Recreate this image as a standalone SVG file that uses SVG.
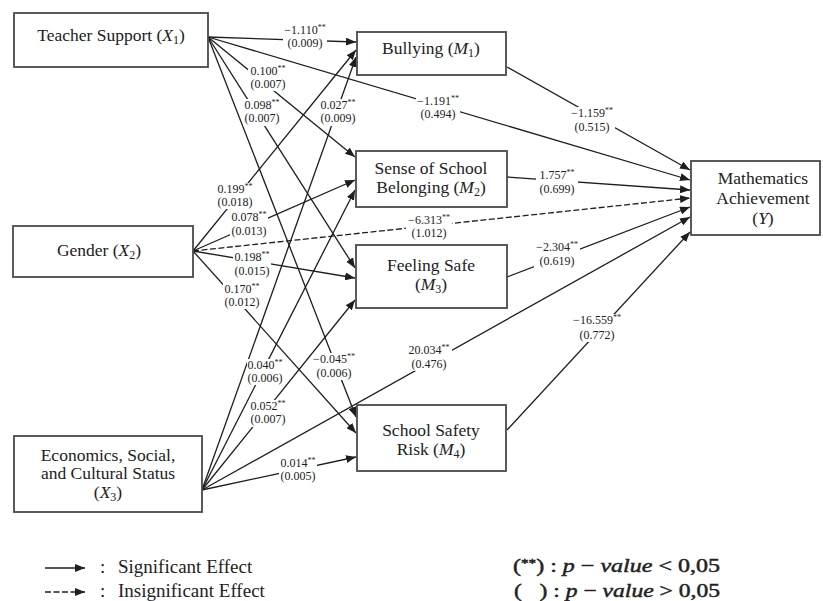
<svg xmlns="http://www.w3.org/2000/svg" width="823" height="601" viewBox="0 0 823 601">
<style>
.box{fill:#fff;stroke:#4a4a4a;stroke-width:1.8}
.nt{font-family:"Liberation Serif","Times New Roman",serif;font-size:17.5px;fill:#222;text-anchor:middle}
.it{font-style:italic}
.sub{font-size:12px}
.cn{fill:none;stroke:#1e1e1e;stroke-width:1.3;marker-end:url(#ah)}
.dash{stroke-dasharray:6 2.5}
.lb{font-family:"Liberation Serif","Times New Roman",serif;font-size:12px;fill:#222;text-anchor:middle}
.st{font-size:8px}
.bg{fill:#fff}
.lg{font-family:"Liberation Serif","Times New Roman",serif;font-size:19px;fill:#222}
.lm{font-family:"Liberation Serif","Times New Roman",serif;font-size:19px;fill:#222;stroke:#222;stroke-width:0.45}
</style>
<defs>
<marker id="ah" markerUnits="userSpaceOnUse" markerWidth="10" markerHeight="8" refX="10" refY="4" orient="auto">
<path d="M0,0 L10,4 L0,8 z" fill="#1e1e1e"/>
</marker>
</defs>
<rect width="823" height="601" fill="#fff"/>

<g id="connectors">
<line class="cn" x1="208" y1="37" x2="356" y2="42"/>
<line class="cn" x1="193" y1="251" x2="356" y2="50"/>
<line class="cn" x1="202" y1="490" x2="356" y2="57"/>
<line class="cn" x1="208" y1="37" x2="355" y2="157"/>
<line class="cn" x1="193" y1="251" x2="355" y2="180"/>
<line class="cn" x1="202" y1="490" x2="355" y2="190"/>
<line class="cn" x1="208" y1="37" x2="355" y2="268"/>
<line class="cn" x1="193" y1="251" x2="355" y2="278"/>
<line class="cn" x1="202" y1="490" x2="355" y2="300"/>
<line class="cn" x1="208" y1="37" x2="356" y2="417"/>
<line class="cn" x1="193" y1="251" x2="356" y2="433"/>
<line class="cn" x1="202" y1="490" x2="356" y2="457"/>
<line class="cn" x1="507" y1="67" x2="690" y2="170"/>
<line class="cn" x1="208" y1="37" x2="690" y2="180"/>
<line class="cn" x1="507" y1="177" x2="690" y2="190"/>
<line class="cn dash" x1="193" y1="251" x2="690" y2="198"/>
<line class="cn" x1="507" y1="277" x2="690" y2="207"/>
<line class="cn" x1="202" y1="490" x2="690" y2="217"/>
<line class="cn" x1="507" y1="430" x2="690" y2="232"/>
</g>

<g id="labels">
<rect class="bg" x="283" y="23" width="44" height="27"/>
<text class="lb" x="305" y="34">−1.110<tspan class="st" dy="-4">**</tspan></text><text class="lb" x="305" y="47">(0.009)</text>
<rect class="bg" x="248" y="65" width="40" height="26"/>
<text class="lb" x="268" y="75">0.100<tspan class="st" dy="-4">**</tspan></text><text class="lb" x="268" y="88">(0.007)</text>
<rect class="bg" x="243" y="99" width="38" height="27"/>
<text class="lb" x="262" y="109">0.098<tspan class="st" dy="-4">**</tspan></text><text class="lb" x="262" y="122">(0.007)</text>
<rect class="bg" x="319" y="99" width="38" height="27"/>
<text class="lb" x="338" y="109">0.027<tspan class="st" dy="-4">**</tspan></text><text class="lb" x="338" y="122">(0.009)</text>
<rect class="bg" x="416" y="95" width="44" height="26"/>
<text class="lb" x="438" y="105">−1.191<tspan class="st" dy="-4">**</tspan></text><text class="lb" x="438" y="118">(0.494)</text>
<rect class="bg" x="216" y="183" width="38" height="26"/>
<text class="lb" x="235" y="193">0.199<tspan class="st" dy="-4">**</tspan></text><text class="lb" x="235" y="206">(0.018)</text>
<rect class="bg" x="230" y="211" width="38" height="27"/>
<text class="lb" x="249" y="221">0.078<tspan class="st" dy="-4">**</tspan></text><text class="lb" x="249" y="235">(0.013)</text>
<rect class="bg" x="406" y="214" width="46" height="26"/>
<text class="lb" x="429" y="224">−6.313<tspan class="st" dy="-4">**</tspan></text><text class="lb" x="429" y="237">(1.012)</text>
<rect class="bg" x="233" y="251" width="38" height="27"/>
<text class="lb" x="252" y="261">0.198<tspan class="st" dy="-4">**</tspan></text><text class="lb" x="252" y="275">(0.015)</text>
<rect class="bg" x="223" y="283" width="38" height="26"/>
<text class="lb" x="242" y="293">0.170<tspan class="st" dy="-4">**</tspan></text><text class="lb" x="242" y="306">(0.012)</text>
<rect class="bg" x="247" y="359" width="37" height="26"/>
<text class="lb" x="265" y="369">0.040<tspan class="st" dy="-4">**</tspan></text><text class="lb" x="265" y="382">(0.006)</text>
<rect class="bg" x="250" y="400" width="37" height="27"/>
<text class="lb" x="268" y="410">0.052<tspan class="st" dy="-4">**</tspan></text><text class="lb" x="268" y="423">(0.007)</text>
<rect class="bg" x="313" y="353" width="43" height="27"/>
<text class="lb" x="334" y="363">−0.045<tspan class="st" dy="-4">**</tspan></text><text class="lb" x="334" y="377">(0.006)</text>
<rect class="bg" x="406" y="344" width="46" height="27"/>
<text class="lb" x="429" y="354">20.034<tspan class="st" dy="-4">**</tspan></text><text class="lb" x="429" y="368">(0.476)</text>
<rect class="bg" x="279" y="457" width="38" height="26"/>
<text class="lb" x="298" y="467">0.014<tspan class="st" dy="-4">**</tspan></text><text class="lb" x="298" y="480">(0.005)</text>
<rect class="bg" x="569" y="107" width="46" height="27"/>
<text class="lb" x="592" y="117">−1.159<tspan class="st" dy="-4">**</tspan></text><text class="lb" x="592" y="131">(0.515)</text>
<rect class="bg" x="536" y="169" width="42" height="27"/>
<text class="lb" x="557" y="179">1.757<tspan class="st" dy="-4">**</tspan></text><text class="lb" x="557" y="193">(0.699)</text>
<rect class="bg" x="534" y="241" width="46" height="27"/>
<text class="lb" x="557" y="251">−2.304<tspan class="st" dy="-4">**</tspan></text><text class="lb" x="557" y="265">(0.619)</text>
<rect class="bg" x="571" y="314" width="52" height="28"/>
<text class="lb" x="597" y="324">−16.559<tspan class="st" dy="-4">**</tspan></text><text class="lb" x="597" y="339">(0.772)</text>
</g>

<g id="teacher-support">
<rect class="box" x="14" y="13" width="194" height="54"/>
<text class="nt" x="111" y="41">Teacher Support (<tspan class="it">X</tspan><tspan class="sub" dy="3">1</tspan><tspan dy="-3">)</tspan></text>
</g>
<g id="gender">
<rect class="box" x="13" y="226" width="180" height="51"/>
<text class="nt" x="99" y="256">Gender (<tspan class="it">X</tspan><tspan class="sub" dy="3">2</tspan><tspan dy="-3">)</tspan></text>
</g>
<g id="escs">
<rect class="box" x="14" y="436" width="188" height="76"/>
<text class="nt" x="108" y="461">Economics, Social,</text>
<text class="nt" x="108" y="479">and Cultural Status</text>
<text class="nt" x="108" y="498">(<tspan class="it">X</tspan><tspan class="sub" dy="3">3</tspan><tspan dy="-3">)</tspan></text>
</g>
<g id="bullying">
<rect class="box" x="357" y="32" width="149" height="43"/>
<text class="nt" x="431" y="54">Bullying (<tspan class="it">M</tspan><tspan class="sub" dy="3">1</tspan><tspan dy="-3">)</tspan></text>
</g>
<g id="belonging">
<rect class="box" x="356" y="151" width="151" height="56"/>
<text class="nt" x="431" y="174">Sense of School</text>
<text class="nt" x="431" y="193">Belonging (<tspan class="it">M</tspan><tspan class="sub" dy="3">2</tspan><tspan dy="-3">)</tspan></text>
</g>
<g id="feeling-safe">
<rect class="box" x="356" y="245" width="151" height="63"/>
<text class="nt" x="431" y="271">Feeling Safe</text>
<text class="nt" x="431" y="290">(<tspan class="it">M</tspan><tspan class="sub" dy="3">3</tspan><tspan dy="-3">)</tspan></text>
</g>
<g id="school-safety-risk">
<rect class="box" x="357" y="405" width="149" height="66"/>
<text class="nt" x="431" y="436">School Safety</text>
<text class="nt" x="431" y="455">Risk (<tspan class="it">M</tspan><tspan class="sub" dy="3">4</tspan><tspan dy="-3">)</tspan></text>
</g>
<g id="math-achievement">
<rect class="box" x="691" y="161" width="129" height="74"/>
<text class="nt" x="763" y="184">Mathematics</text>
<text class="nt" x="763" y="204">Achievement</text>
<text class="nt" x="763" y="224">(<tspan class="it">Y</tspan>)</text>
</g>

<g id="legend">
<line x1="45" y1="568" x2="85" y2="568" class="cn"/>
<line x1="45" y1="592" x2="85" y2="592" class="cn dash"/>
<text class="lg" x="100" y="573">:</text>
<text class="lg" x="100" y="597">:</text>
<text class="lg" x="118" y="573">Significant Effect</text>
<text class="lg" x="118" y="597">Insignificant Effect</text>
<text class="lm" x="513" y="572" textLength="207" lengthAdjust="spacingAndGlyphs">(<tspan font-size="12" dy="-5">**</tspan><tspan dy="5">) : </tspan><tspan class="it">p</tspan> − <tspan class="it">value</tspan> &lt; 0,05</text>
<text class="lm" x="514" y="597" textLength="206" lengthAdjust="spacingAndGlyphs">(&#160;&#160;&#160;) : <tspan class="it">p</tspan> − <tspan class="it">value</tspan> &gt; 0,05</text>
</g>
</svg>
